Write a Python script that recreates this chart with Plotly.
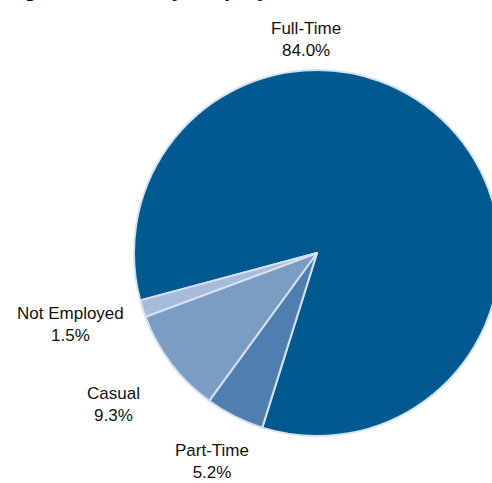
import plotly.graph_objects as go

categories = ["Full-Time", "Part-Time", "Casual", "Not Employed"]
values = [84.0, 5.2, 9.3, 1.5]
colors = ["#005A8F", "#4F7FAF", "#7B9DC3", "#A6BCDA"]
title_text = "Figure 6: Staff by Employment Status"

W, H = 510, 483
cx, cy, r = 317, 253, 183

fig = go.Figure(go.Pie(
    labels=categories,
    values=values,
    sort=False,
    direction="clockwise",
    rotation=255,
    marker=dict(colors=colors, line=dict(color="#D5E1EF", width=2)),
    textinfo="none",
    hoverinfo="label+percent",
    showlegend=False,
    domain=dict(x=[(cx - r) / W, (cx + r) / W],
                y=[(H - cy - r) / H, (H - cy + r) / H]),
))

# label positions (pixels from top-left)
label_pos = {
    "Full-Time": (306, 40),
    "Part-Time": (212, 461),
    "Casual": (113, 404),
    "Not Employed": (70, 324),
}
for cat, val in zip(categories, values):
    px, py = label_pos[cat]
    fig.add_annotation(
        x=px / W, y=1 - py / H, xref="paper", yref="paper",
        text=f"{cat}<br>{val:.1f}%", showarrow=False,
        xanchor="center", yanchor="middle",
        font=dict(family="Liberation Sans, Arial, sans-serif", size=17, color="#111111"),
    )

fig.add_annotation(
    x=3 / W, y=1 - 2.2 / H, xref="paper", yref="paper",
    text=f"<b>{title_text}</b>", showarrow=False,
    xanchor="left", yanchor="bottom", borderpad=0,
    font=dict(family="Liberation Sans, Arial, sans-serif", size=22, color="#111111"),
)

fig.update_layout(
    width=W, height=H,
    margin=dict(l=0, r=0, t=0, b=0),
    paper_bgcolor="white",
    plot_bgcolor="white",
)

fig.write_html("out.html", config={"displayModeBar": False},
               post_script="document.body.style.margin='0';document.body.style.overflow='hidden';")
